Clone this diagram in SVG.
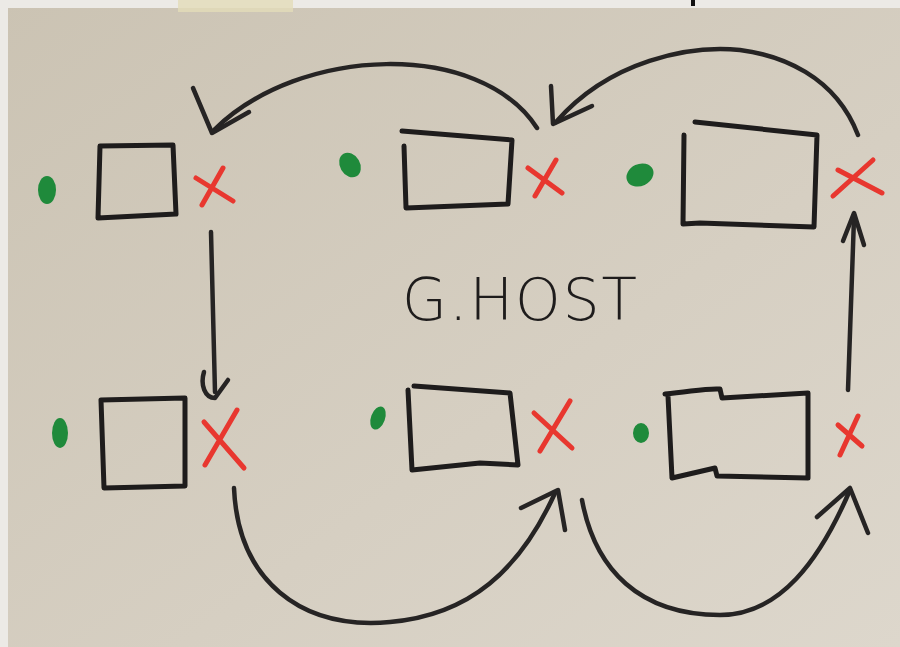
<svg xmlns="http://www.w3.org/2000/svg" width="900" height="647" viewBox="0 0 900 647">
<defs>
<linearGradient id="paper" x1="0" y1="0" x2="1" y2="1">
<stop offset="0" stop-color="#cbc3b3"/>
<stop offset="0.6" stop-color="#d6cfc2"/>
<stop offset="1" stop-color="#ddd7cc"/>
</linearGradient>
<style>
.box{fill:none;stroke:#1e1c1c;stroke-width:5;stroke-linejoin:round;stroke-linecap:round}
.x{fill:none;stroke:#e8372f;stroke-width:5;stroke-linecap:round}
.dot{fill:#1f8a3b}
.arc{fill:none;stroke:#262424;stroke-width:4.5;stroke-linecap:round;stroke-linejoin:round}
.label{font-family:"DejaVu Sans","Liberation Sans",sans-serif;font-size:58px;font-weight:300;fill:#1e1c1c;letter-spacing:2px}
</style>
</defs>
<rect width="900" height="647" fill="url(#paper)"/>
<rect x="0" y="0" width="900" height="8" fill="#eceae6"/>
<rect x="178" y="0" width="115" height="12" fill="#e3dcb9" opacity="0.8"/>
<rect x="0" y="0" width="8" height="647" fill="#eceae6"/>
<rect x="691" y="0" width="4" height="6" fill="#111"/>

<g id="connectors">
<path class="arc" d="M537 128 C480 40 300 45 214 130"/>
<path class="arc" d="M193 88 L212 133 L249 112"/>
<path class="arc" d="M858 135 C835 75 780 55 740 50 C690 45 610 60 556 122"/>
<path class="arc" d="M551 86 L553 124 L592 106"/>
<path class="arc" d="M211 232 L215 392"/>
<path class="arc" d="M204 372 C200 385 205 398 215 398 L228 380"/>
<path class="arc" d="M234 488 C238 580 300 630 390 622 C470 615 520 570 555 493"/>
<path class="arc" d="M521 508 L558 490 L565 530"/>
<path class="arc" d="M582 500 C595 570 640 615 720 615 C780 615 820 560 850 490"/>
<path class="arc" d="M817 517 L850 488 L868 533"/>
<path class="arc" d="M848 390 L854 218"/>
<path class="arc" d="M843 241 L854 213 L864 245"/>
</g>

<g id="node-top-left">
<ellipse class="dot" cx="47" cy="190" rx="9" ry="14"/>
<path class="box" d="M100 146 L173 145 L176 214 L98 218 Z"/>
<path class="x" d="M196 178 L233 201 M223 168 L202 205"/>
</g>

<g id="node-top-middle">
<ellipse class="dot" cx="350" cy="165" rx="10" ry="13" transform="rotate(-30 350 165)"/>
<path class="box" d="M402 131 L512 140 L508 204 L406 208 L404 146"/>
<path class="x" d="M528 168 L562 193 M556 160 L535 196"/>
</g>

<g id="node-top-right">
<ellipse class="dot" cx="640" cy="175" rx="14" ry="11" transform="rotate(-25 640 175)"/>
<path class="box" d="M695 122 L817 135 L814 227 L700 223 L683 224 L684 135"/>
<path class="x" d="M838 170 L882 193 M873 160 L833 196"/>
</g>

<g id="node-bottom-left">
<ellipse class="dot" cx="60" cy="433" rx="8" ry="15"/>
<path class="box" d="M101 400 L185 398 L185 486 L104 488 Z"/>
<path class="x" d="M204 422 L244 468 M237 410 L205 465"/>
</g>

<g id="node-bottom-middle">
<ellipse class="dot" cx="378" cy="418" rx="7" ry="12" transform="rotate(20 378 418)"/>
<path class="box" d="M414 386 L510 393 L518 465 L480 463 L412 470 L408 390"/>
<path class="x" d="M534 413 L572 448 M570 401 L540 451"/>
</g>

<g id="node-bottom-right">
<ellipse class="dot" cx="641" cy="433" rx="8" ry="10"/>
<path class="box" d="M665 394 C690 392 705 388 720 389 L722 398 L808 393 L808 478 L717 476 L715 468 L672 478 L668 396"/>
<path class="x" d="M838 425 L862 446 M858 416 L840 455"/>
</g>

<text class="label" x="402" y="320">G.HOST</text>
</svg>
